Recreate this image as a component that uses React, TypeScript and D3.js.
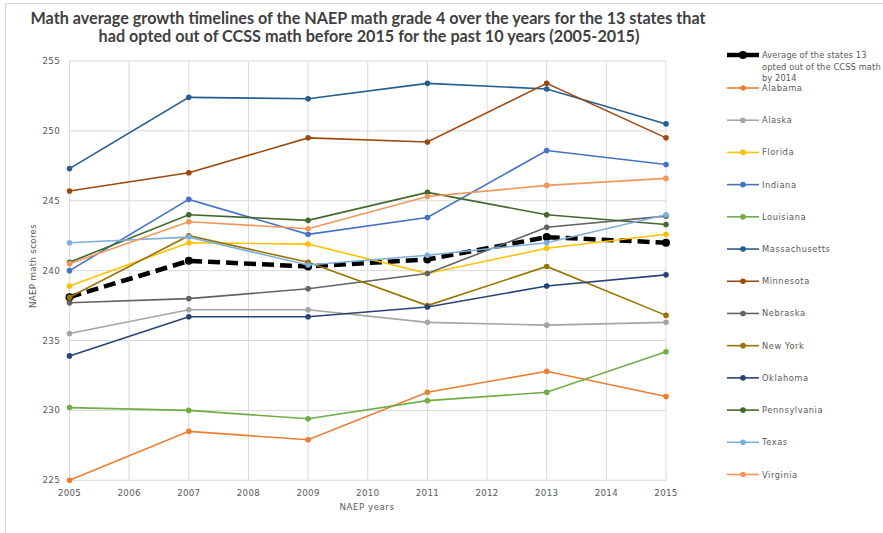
import React from "react";
import * as d3 from "d3";

const years = [2005, 2007, 2009, 2011, 2013, 2015];
const xTickYears = [2005, 2006, 2007, 2008, 2009, 2010, 2011, 2012, 2013, 2014, 2015];
const yTicks = [225, 230, 235, 240, 245, 250, 255];

const averageLines = ["Average of the  states 13", "opted out of the CCSS math", "by 2014"];
const averageValues = [238.1, 240.7, 240.3, 240.8, 242.4, 242.0];

const stateNames = [
  "Alabama", "Alaska", "Florida", "Indiana", "Louisiana", "Massachusetts", "Minnesota",
  "Nebraska", "New York", "Oklahoma", "Pennsylvania", "Texas", "Virginia",
];
const stateColors = [
  "#ed7d31", "#a5a5a5", "#ffc000", "#4472c4", "#70ad47", "#255e91", "#9e480e",
  "#636363", "#997300", "#264478", "#43682b", "#7cafdd", "#f1975a",
];
const alabama = [225.0, 228.5, 227.9, 231.3, 232.8, 231.0];
const alaska = [235.5, 237.2, 237.2, 236.3, 236.1, 236.3];
const florida = [238.9, 242.0, 241.9, 239.8, 241.6, 242.6];
const indiana = [240.0, 245.1, 242.6, 243.8, 248.6, 247.6];
const louisiana = [230.2, 230.0, 229.4, 230.7, 231.3, 234.2];
const massachusetts = [247.3, 252.4, 252.3, 253.4, 253.0, 250.5];
const minnesota = [245.7, 247.0, 249.5, 249.2, 253.4, 249.5];
const nebraska = [237.7, 238.0, 238.7, 239.8, 243.1, 243.9];
const newYork = [238.1, 242.5, 240.6, 237.5, 240.3, 236.8];
const oklahoma = [233.9, 236.7, 236.7, 237.4, 238.9, 239.7];
const pennsylvania = [240.6, 244.0, 243.6, 245.6, 244.0, 243.3];
const texas = [242.0, 242.4, 240.4, 241.1, 242.0, 244.0];
const virginia = [240.5, 243.5, 243.0, 245.3, 246.1, 246.6];
const stateValues = [
  alabama, alaska, florida, indiana, louisiana, massachusetts, minnesota,
  nebraska, newYork, oklahoma, pennsylvania, texas, virginia,
];

const W = 883;
const H = 533;
const x = d3.scaleLinear().domain([2005, 2015]).range([69.5, 666]);
const y = d3.scaleLinear().domain([225, 255]).range([480.3, 61]);
const line = d3
  .line<[number, number]>()
  .x((d) => x(d[0]))
  .y((d) => y(d[1]));

const textColor = "#595959";
const tickFont = "DejaVu Sans, sans-serif";

export default function App() {
  const legendY = d3.scaleLinear().domain([0, 12]).range([88, 474.5]);
  return (
    <div style={{ position: "absolute", left: 0, top: 0, width: W, height: H, overflow: "hidden", background: "#fff" }}>
      <svg width={W} height={H} style={{ display: "block" }}>
        <rect x={0} y={0} width={W} height={H} fill="#fff" />
        <rect x={5.5} y={3.5} width={W + 10} height={H + 10} fill="none" stroke="#d9d9d9" strokeWidth={1} />
        {/* title */}
        <g fontFamily="Lato" fontWeight={700} fontSize={16.2} fill="#404040" textAnchor="middle">
          <text x={368} y={24}>Math average growth timelines of the NAEP math  grade 4 over the years for the 13  states that</text>
          <text x={369} y={42}>had opted out of CCSS math before 2015 for the past 10 years (2005-2015)</text>
        </g>
        {/* gridlines */}
        <g stroke="#d9d9d9" strokeWidth={1}>
          {yTicks.map((t) => (
            <line key={"h" + t} x1={x(2005)} x2={x(2015)} y1={y(t)} y2={y(t)} />
          ))}
          {xTickYears.map((t) => (
            <line key={"v" + t} x1={x(t)} x2={x(t)} y1={y(255)} y2={y(225)} />
          ))}
        </g>
        {/* y tick labels */}
        <g fontFamily={tickFont} fontSize={8.7} fill={textColor} textAnchor="end" letterSpacing={0.3}>
          {yTicks.map((t) => (
            <text key={"yl" + t} x={60} y={y(t) + 3}>{t}</text>
          ))}
        </g>
        <g fontFamily={tickFont} fontSize={8.7} fill={textColor} textAnchor="middle" letterSpacing={0.3}>
          {xTickYears.map((t) => (
            <text key={"xl" + t} x={x(t)} y={495.5}>{t}</text>
          ))}
        </g>
        <text x={367} y={510} fontFamily={tickFont} fontSize={8.7} fill={textColor} textAnchor="middle" letterSpacing={0.5}>NAEP years</text>
        <text transform="translate(36,266) rotate(-90)" fontFamily={tickFont} fontSize={8.7} fill={textColor} textAnchor="middle" letterSpacing={0.3}>NAEP math scores</text>
        {/* average series */}
        <path
          d={line(years.map((yr, i) => [yr, averageValues[i]]) as [number, number][]) || ""}
          fill="none"
          stroke="#000"
          strokeWidth={4.5}
          strokeDasharray="12 6"
        />
        {years.map((yr, i) => (
          <circle key={"a" + yr} cx={x(yr)} cy={y(averageValues[i])} r={4} fill="#000" />
        ))}
        {/* state series */}
        {stateValues.map((vals, si) => (
          <g key={stateNames[si]}>
            <path
              d={line(years.map((yr, i) => [yr, vals[i]]) as [number, number][]) || ""}
              fill="none"
              stroke={stateColors[si]}
              strokeWidth={1.6}
            />
            {years.map((yr, i) => (
              <circle key={yr} cx={x(yr)} cy={y(vals[i])} r={2.8} fill={stateColors[si]} />
            ))}
          </g>
        ))}
        {/* legend */}
        <g fontFamily={tickFont} fontSize={8.3} fill={textColor} letterSpacing={0.55}>
          <line x1={727} x2={759} y1={55} y2={55} stroke="#000" strokeWidth={4.5} />
          <circle cx={743} cy={55} r={4} fill="#000" />
          {averageLines.map((t, i) => (
            <text key={"al" + i} x={762} y={58 + i * 11.5} letterSpacing={0.1}>{t}</text>
          ))}
          {stateNames.map((n, si) => (
            <g key={"lg" + n}>
              <line x1={727} x2={759} y1={legendY(si)} y2={legendY(si)} stroke={stateColors[si]} strokeWidth={1.6} />
              <circle cx={743} cy={legendY(si)} r={2.8} fill={stateColors[si]} />
              <text x={762} y={legendY(si) + 3}>{n}</text>
            </g>
          ))}
        </g>
      </svg>
    </div>
  );
}
